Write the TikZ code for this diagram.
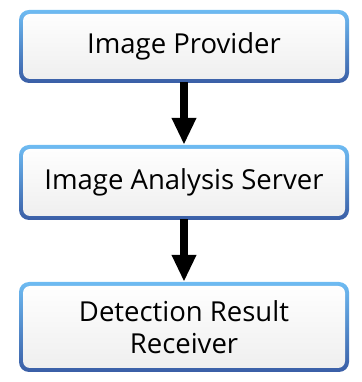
\documentclass[tikz,border=0pt]{standalone}
\usepackage{fontspec}
\setmainfont{Open Sans}
\usetikzlibrary{arrows.meta}
\definecolor{bordtop}{HTML}{6EBBF2}
\definecolor{bordbot}{HTML}{3A5EA6}
\definecolor{fillbot}{HTML}{EEEEEE}
\tikzset{
  box/.style={rounded corners=10pt, top color=bordtop, bottom color=bordbot,
    minimum width=330pt, inner sep=0pt, align=center,
    font=\fontsize{27.5}{32}\selectfont,
    path picture={\shade[top color=white, bottom color=fillbot, rounded corners=7pt]
      ([shift={(4pt,4pt)}]path picture bounding box.south west) rectangle
      ([shift={(-4pt,-4pt)}]path picture bounding box.north east);}},
  flow/.style={line width=8.5pt, -{Triangle[width=23pt,length=27pt]}, black, shorten <=-1pt}
}
\begin{document}
\begin{tikzpicture}[x=1pt,y=1pt]
\useasboundingbox (0,0) rectangle (361,382);
\node[box, minimum height=73pt] (prov) at (184,335.5) {Image Provider};
\node[box, minimum height=75pt] (serv) at (184,199.5) {Image Analysis Server};
\node[box, minimum height=90pt] (recv) at (184,55) {Detection Result\\Receiver};
\draw[flow] (prov.south) -- (serv.north);
\draw[flow] (serv.south) -- (recv.north);
\end{tikzpicture}
\end{document}
